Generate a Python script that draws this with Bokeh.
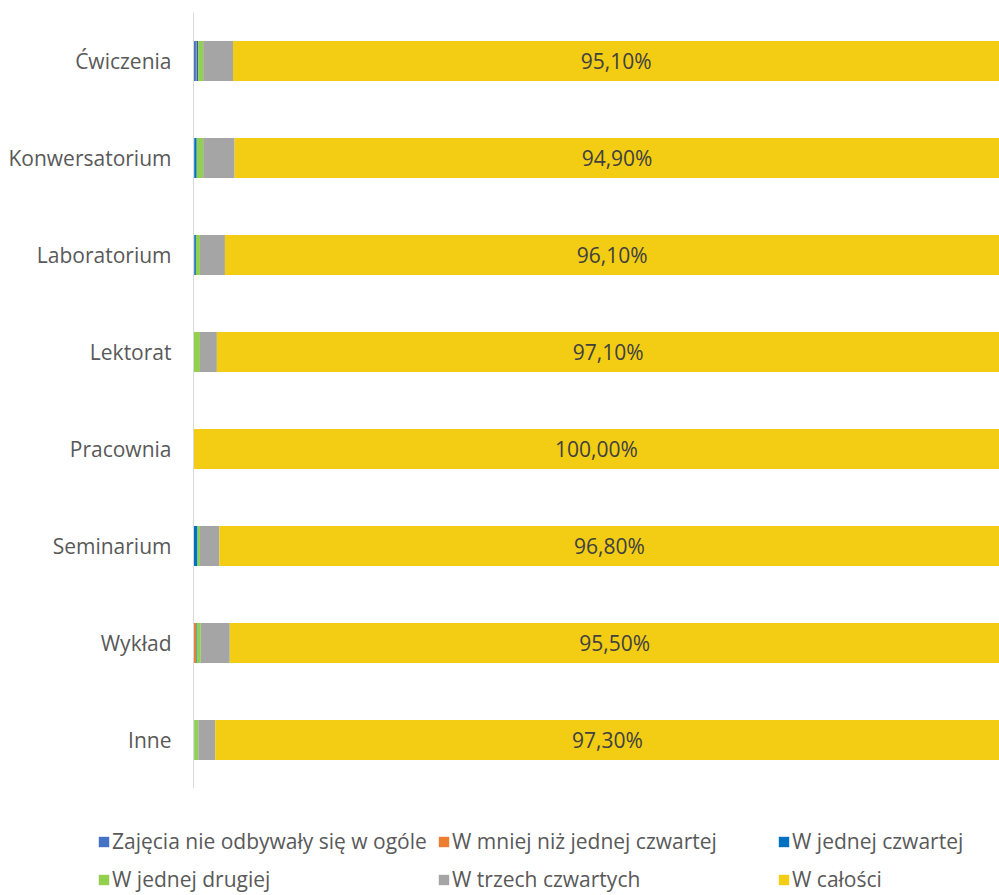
from bokeh.plotting import figure
from bokeh.layouts import column
from bokeh.models import ColumnDataSource, FactorRange, Range1d, Legend, LegendItem
from bokeh.core.properties import value
from bokeh.embed import file_html
from bokeh.resources import INLINE

categories = ["Ćwiczenia", "Konwersatorium", "Laboratorium", "Lektorat",
              "Pracownia", "Seminarium", "Wykład", "Inne"]
series_names = ["Zajęcia nie odbywały się w ogóle", "W mniej niż jednej czwartej",
                "W jednej czwartej", "W jednej drugiej", "W trzech czwartych", "W całości"]
zajecia = [0.3, 0.1, 0.0, 0.0, 0.0, 0.0, 0.0, 0.0]
mniej = [0.1, 0.0, 0.1, 0.0, 0.0, 0.0, 0.3, 0.0]
czwartej = [0.2, 0.3, 0.2, 0.0, 0.0, 0.5, 0.1, 0.1]
drugiej = [0.6, 0.8, 0.5, 0.8, 0.0, 0.3, 0.5, 0.5]
trzech = [3.7, 3.9, 3.1, 2.1, 0.0, 2.4, 3.6, 2.1]
calosci = [95.1, 94.9, 96.1, 97.1, 100.0, 96.8, 95.5, 97.3]

colors = ["#4472C4", "#ED7D31", "#0070C0", "#92D050", "#A5A5A5", "#F2CD14"]
keys = ["zajecia", "mniej", "czwartej", "drugiej", "trzech", "calosci"]

source = ColumnDataSource(dict(cat=categories, zajecia=zajecia, mniej=mniej,
                               czwartej=czwartej, drugiej=drugiej, trzech=trzech,
                               calosci=calosci))

FONT = "Open Sans"

p = figure(width=999, height=788, output_backend="svg", toolbar_location=None,
           y_range=FactorRange(*reversed(categories), range_padding=0),
           x_range=Range1d(0, 100),
           min_border_left=193, min_border_right=0, min_border_top=12,
           min_border_bottom=0)
p.frame_align = False
p.outline_line_color = None
p.xgrid.visible = False
p.ygrid.visible = False
p.xaxis.visible = False

renderers = p.hbar_stack(keys, y="cat", height=0.41, color=colors, source=source,
                         line_color=None)

# percentage labels centred in the final segment
starts = [100 - c for c in calosci]
mids = [s + c / 2 for s, c in zip(starts, calosci)]
labels = [("%.2f" % c).replace(".", ",") + "%" for c in calosci]
lsrc = ColumnDataSource(dict(x=mids, y=categories, t=labels))
p.text(x="x", y="y", text="t", source=lsrc, text_align="center",
       text_baseline="middle", text_color="#404040", text_font=value(FONT),
       text_font_size="21px")

yax = p.yaxis[0]
yax.axis_line_color = "#D9D9D9"
yax.axis_line_width = 1
yax.major_tick_line_color = None
yax.minor_tick_line_color = None
yax.major_tick_out = 0
yax.major_tick_in = 0
yax.major_label_standoff = 22
yax.major_label_text_font = FONT
yax.major_label_text_font_size = "21px"
yax.major_label_text_color = "#595959"

# legend panel below the chart (hidden copies of the series supply the swatches)
lg = figure(width=999, height=107, output_backend="svg", toolbar_location=None,
            x_range=Range1d(0, 100), y_range=FactorRange(*categories),
            min_border_left=0, min_border_right=0, min_border_top=0,
            min_border_bottom=0)
lg.frame_align = False
lg.outline_line_color = None
lg.axis.visible = False
lg.grid.visible = False
swatches = lg.hbar_stack(keys, y="cat", height=0.41, color=colors, source=source,
                         line_color=None, visible=False)
order = [0, 3, 1, 4, 2, 5]  # column-major fill -> row-major reading order
items = [LegendItem(label=series_names[i], renderers=[swatches[i]]) for i in order]
legend = Legend(items=items, ncols=3, location=(97, 2),
                glyph_width=13, glyph_height=13, label_standoff=2,
                label_width=315, label_height=22, spacing=10, padding=0, margin=0,
                border_line_color=None, background_fill_alpha=0,
                label_text_font=FONT, label_text_font_size="21px",
                label_text_color="#595959")
lg.add_layout(legend, "center")

layout = column(p, lg, spacing=0)
open("out.html", "w").write(file_html(layout, INLINE))
